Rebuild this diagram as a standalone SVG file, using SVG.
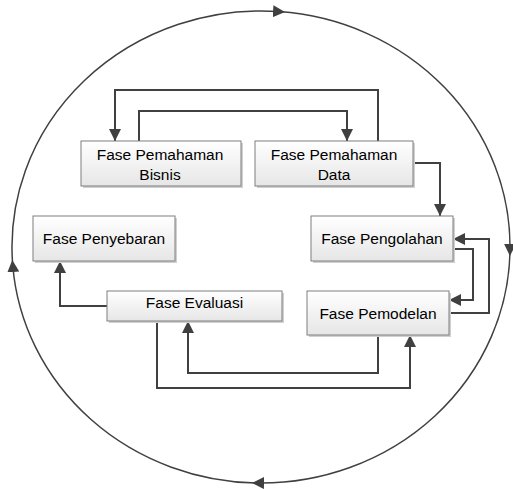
<svg xmlns="http://www.w3.org/2000/svg" width="513" height="489" viewBox="0 0 513 489">
<style>
.box{fill:url(#g);stroke:#7f7f7f;stroke-width:1}
.sh{fill:#d0d0d0}
.t{font-family:"Liberation Sans",Arial,sans-serif;font-size:15.5px;fill:#000;text-anchor:middle}
.c{fill:none;stroke:#404040;stroke-width:2}
.ring{fill:none;stroke:#404040;stroke-width:1.5}
</style>
<defs>
<linearGradient id="g" x1="0" y1="0" x2="0" y2="1">
<stop offset="0" stop-color="#ffffff"/>
<stop offset="1" stop-color="#e6e6e6"/>
</linearGradient>
<marker id="a" markerUnits="userSpaceOnUse" markerWidth="14" markerHeight="14" refX="12" refY="6" orient="auto">
<path d="M0,0 L12,6 L0,12 Z" fill="#404040"/>
</marker>
<marker id="r" markerUnits="userSpaceOnUse" markerWidth="14" markerHeight="14" refX="6" refY="6" orient="auto">
<path d="M0,0 L12,6 L0,12 Z" fill="#404040"/>
</marker>
</defs>
<g id="cycle">
<path class="ring" d="M12.8,266 A249,236 0 0 1 279,11.6" marker-end="url(#r)"/>
<path class="ring" d="M279,11.6 A249,236 0 0 1 510,250" marker-end="url(#r)"/>
<path class="ring" d="M510,250 A249,236 0 0 1 258,483" marker-end="url(#r)"/>
<path class="ring" d="M258,483 A249,236 0 0 1 12.8,266" marker-end="url(#r)"/>
</g>
<g id="connectors">
<path class="c" d="M378,141 V90 H115 V141" marker-end="url(#a)"/>
<path class="c" d="M139,141 V111 H347 V141" marker-end="url(#a)"/>
<path class="c" d="M413,163 H440 V216" marker-end="url(#a)"/>
<path class="c" d="M453,249 H473 V300 H449" marker-end="url(#a)"/>
<path class="c" d="M449,313 H489 V239 H453" marker-end="url(#a)"/>
<path class="c" d="M378,335 V373 H188 V321" marker-end="url(#a)"/>
<path class="c" d="M157,321 V388 H410 V335" marker-end="url(#a)"/>
<path class="c" d="M107,306 H60 V261" marker-end="url(#a)"/>
</g>
<g id="bisnis">
<rect class="sh" x="83" y="143" width="160" height="45"/>
<rect class="box" x="81" y="141" width="160" height="45"/>
<text class="t" x="160" y="160">Fase Pemahaman</text>
<text class="t" x="160" y="180">Bisnis</text>
</g>
<g id="data">
<rect class="sh" x="257" y="143" width="158" height="45"/>
<rect class="box" x="255" y="141" width="158" height="45"/>
<text class="t" x="334" y="160">Fase Pemahaman</text>
<text class="t" x="334" y="180">Data</text>
</g>
<g id="penyebaran">
<rect class="sh" x="35" y="218" width="142" height="45"/>
<rect class="box" x="33" y="216" width="142" height="45"/>
<text class="t" x="104" y="244">Fase Penyebaran</text>
</g>
<g id="pengolahan">
<rect class="sh" x="313" y="218" width="142" height="45"/>
<rect class="box" x="311" y="216" width="142" height="45"/>
<text class="t" x="382" y="244">Fase Pengolahan</text>
</g>
<g id="pemodelan">
<rect class="sh" x="309" y="293" width="142" height="44"/>
<rect class="box" x="307" y="291" width="142" height="44"/>
<text class="t" x="378" y="319">Fase Pemodelan</text>
</g>
<g id="evaluasi">
<rect class="sh" x="109" y="293" width="175" height="30"/>
<rect class="box" x="107" y="291" width="175" height="30"/>
<text class="t" x="194.5" y="308">Fase Evaluasi</text>
</g>
</svg>
